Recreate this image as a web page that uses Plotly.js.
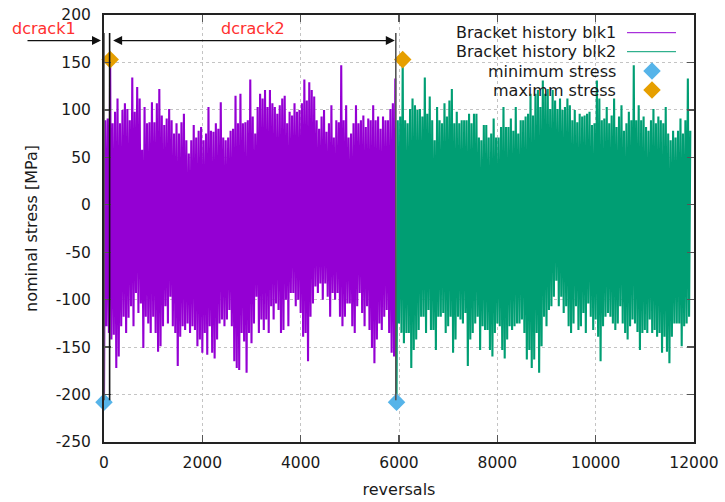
<!DOCTYPE html>
<html>
<head>
<meta charset="utf-8">
<script src="https://cdn.plot.ly/plotly-3.0.1.min.js"></script>
<style>
  html, body { margin: 0; padding: 0; background: #fff; }
  #chart { width: 725px; height: 502px; }
</style>
</head>
<body>
<div id="chart"></div>
<script>
// Bracket stress history, two blocks of reversals (peak / valley pairs).
// Each block: valley at start + i*step, peak half a step later.
const reversalStep = 50;
const blk1Start = 0;
const blk2Start = 5950;

const blk1Valleys = [
  -208,-128,-135,-142,-137,-172,-160,-128,-118,-135,-119,-107,-128,-93,-114,-104,-151,-118,-125,-135,
  -118,-135,-155,-149,-128,-107,-125,-97,-128,-135,-170,-139,-128,-132,-125,-135,-128,-132,-149,-142,
  -156,-135,-158,-128,-156,-162,-142,-125,-121,
  -128,-121,-111,-128,-165,-172,-174,-135,-144,-177,-135,-146,-125,-97,-135,-121,-132,-121,-135,-107,
  -121,-104,-111,-135,-132,-100,-128,-93,-93,-107,-100,-114,-139,-135,-165,-118,-104,-86,-93,-83,
  -100,-83,-97,-118,-93,-100,-93,-118,-128,
  -118,-104,-104,-128,-135,-107,-93,-114,-128,-107,-132,-151,-167,-142,-125,-132,-118,-111,-135,-156,-160
];
const blk1Peaks = [
  89,91,153,86,98,112,86,100,107,101,89,134,98,124,112,58,103,86,87,108,
  87,107,122,94,84,91,101,89,75,86,75,87,96,68,54,68,84,71,78,82,
  68,75,103,78,77,86,80,108,71,
  68,71,78,80,115,86,117,86,87,89,132,93,75,103,117,112,121,103,121,107,
  103,96,105,112,115,86,98,94,107,98,100,107,132,110,129,121,114,89,80,93,
  100,77,86,105,71,89,87,147,89,
  105,71,75,86,105,86,89,94,82,91,89,105,89,93,80,93,89,89,101,107,133
];
const blk2Valleys = [
  -208,-125,-135,-146,-135,-135,-172,-153,-142,-132,-118,-118,-135,-111,-132,-132,-153,-118,-118,-114,
  -135,-128,-118,-156,-142,-118,-121,-125,
  -114,-170,-142,-135,-125,-118,-153,-128,-132,-132,-153,-160,-135,-125,-128,-153,-162,-142,-128,-132,
  -128,-125,-125,-121,-135,-163,-153,-172,-163,-135,-177,-149,-118,-128,-111,-107,-97,-80,-107,-97,
  -114,-107,-128,-135,-125,-107,-132,-128,-114,
  -135,-104,-118,-132,-121,-139,-165,-128,-118,-114,-118,-125,-132,-125,-107,-125,-135,-142,-128,-121,
  -125,-134,-153,-135,-132,-135,-121,-135,-132,-139,-135,-156,-139,-155,-167,-139,-125,-125,-125,-149,
  -128,-125,-118
];
const blk2Peaks = [
  89,93,153,89,86,101,112,105,100,101,93,134,96,114,89,68,103,89,86,107,
  93,110,122,86,98,86,89,89,
  89,96,86,96,96,71,68,84,84,71,75,91,71,71,82,103,82,82,91,78,
  103,75,89,89,93,96,117,94,117,121,103,131,117,122,101,121,110,101,112,100,
  103,112,105,89,100,87,96,93,94,
  96,98,84,86,131,112,89,91,103,86,94,112,82,93,105,78,86,98,89,147,
  89,105,89,93,82,78,89,101,86,93,89,86,103,75,68,78,71,78,91,75,
  89,133,78
];

// crack marker positions (reversals) and their labels
const crackX = [0, 114, 5935];
const crackLabels = ['dcrack1', 'dcrack2'];

const xTicks = [0, 2000, 4000, 6000, 8000, 10000, 12000];
const yTicks = [-250, -200, -150, -100, -50, 0, 50, 100, 150, 200];

const seriesNames = ['Bracket history blk1', 'Bracket history blk2', 'minimum stress', 'maximm stress'];

const colBlk1 = '#9400d3';
const colBlk2 = '#009e73';
const colMin = '#56b4e9';
const colMax = '#e69f00';
const fontFam = 'DejaVu Sans, sans-serif';
const txtCol = '#1a1a1a';

function buildSeries(start, valleys, peaks) {
  const xs = [], ys = [];
  for (let i = 0; i < valleys.length; i++) {
    xs.push(start + i * reversalStep); ys.push(valleys[i]);
    xs.push(start + i * reversalStep + reversalStep / 2); ys.push(peaks[i]);
  }
  return { x: xs, y: ys };
}
function extremes(s) {
  let iMin = 0, iMax = 0;
  s.y.forEach((v, i) => { if (v < s.y[iMin]) iMin = i; if (v > s.y[iMax]) iMax = i; });
  return { minX: s.x[iMin], minY: s.y[iMin], maxX: s.x[iMax], maxY: s.y[iMax] };
}

const s1 = buildSeries(blk1Start, blk1Valleys, blk1Peaks);
const s2 = buildSeries(blk2Start, blk2Valleys, blk2Peaks);
const e1 = extremes(s1), e2 = extremes(s2);

const markerSize = 13.5;
const histWidth = 2.1;

const traces = [
  { x: s1.x, y: s1.y, type: 'scatter', mode: 'lines', name: seriesNames[0],
    line: { color: colBlk1, width: histWidth, simplify: false }, hoverinfo: 'skip' },
  { x: s2.x, y: s2.y, type: 'scatter', mode: 'lines', name: seriesNames[1],
    line: { color: colBlk2, width: histWidth, simplify: false }, hoverinfo: 'skip' },
  { x: [e1.minX, e2.minX], y: [e1.minY, e2.minY], type: 'scatter', mode: 'markers', name: seriesNames[2],
    marker: { symbol: 'diamond', size: markerSize, color: colMin }, cliponaxis: false },
  { x: [e1.maxX, e2.maxX], y: [e1.maxY, e2.maxY], type: 'scatter', mode: 'markers', name: seriesNames[3],
    marker: { symbol: 'diamond', size: markerSize, color: colMax }, cliponaxis: false },
];

// key drawn in a pixel-unit overlay (x2/y2), symbols on the right of the text
const keyTextRight = 618, keyX0 = 627, keyX1 = 676, keyMid = 652;
const keyRows = [32.7, 51.7, 71, 90];
traces.push(
  { x: [keyX0, keyX1], y: [keyRows[0], keyRows[0]], xaxis: 'x2', yaxis: 'y2', mode: 'lines',
    line: { color: colBlk1, width: 1 }, hoverinfo: 'skip' },
  { x: [keyX0, keyX1], y: [keyRows[1], keyRows[1]], xaxis: 'x2', yaxis: 'y2', mode: 'lines',
    line: { color: colBlk2, width: 1 }, hoverinfo: 'skip' },
  { x: [keyMid], y: [keyRows[2]], xaxis: 'x2', yaxis: 'y2', mode: 'markers',
    marker: { symbol: 'diamond', size: markerSize, color: colMin }, hoverinfo: 'skip' },
  { x: [keyMid], y: [keyRows[3]], xaxis: 'x2', yaxis: 'y2', mode: 'markers',
    marker: { symbol: 'diamond', size: markerSize, color: colMax }, hoverinfo: 'skip' }
);

const annotations = seriesNames.map((t, i) => ({
  text: t, xref: 'x2', yref: 'y2', x: keyTextRight, y: keyRows[i], xanchor: 'right', yanchor: 'middle',
  showarrow: false, font: { family: fontFam, size: 16, color: txtCol }
}));

const arrowY = 173;
// dcrack1: pointer from the left onto the first crack line
annotations.push({
  xref: 'x', yref: 'y', x: crackX[0], y: arrowY, ax: -78, ay: 0, axref: 'pixel', ayref: 'pixel',
  showarrow: true, arrowhead: 2, arrowsize: 1.5, arrowwidth: 1.2, arrowcolor: '#111', standoff: 3, text: ''
});
// dcrack2: double arrow between the second and third crack lines
annotations.push({
  xref: 'x', yref: 'y', x: crackX[2], y: arrowY, ax: crackX[1], ay: arrowY, axref: 'x', ayref: 'y',
  showarrow: true, arrowhead: 2, startarrowhead: 2, arrowside: 'end+start',
  arrowsize: 1.5, startarrowsize: 1.5, arrowwidth: 1.2, arrowcolor: '#111',
  standoff: 1, startstandoff: 2, text: ''
});
annotations.push(
  { text: crackLabels[0], xref: 'paper', yref: 'paper', x: (44.5 - 104) / 590, y: (442 - 28) / 427,
    xanchor: 'center', yanchor: 'middle', showarrow: false,
    font: { family: fontFam, size: 16, color: '#ff3030' } },
  { text: crackLabels[1], xref: 'x', yref: 'paper', x: (crackX[1] + crackX[2]) / 2, y: (442 - 28) / 427,
    xanchor: 'center', yanchor: 'middle', showarrow: false,
    font: { family: fontFam, size: 16, color: '#ff3030' } }
);

const shapes = crackX.map((cx, i) => ({
  type: 'line', xref: 'x', yref: 'y', x0: cx, x1: cx, y0: -206, y1: 181, layer: 'above',
  line: { color: i === 1 ? '#111' : '#555', width: 1.6 }
}));

const axisCommon = {
  showline: true, linecolor: '#222', linewidth: 2, mirror: 'ticks',
  ticks: 'inside', ticklen: 7, tickwidth: 1.3, tickcolor: '#555',
  showgrid: true, gridcolor: '#c4c4c4', griddash: 'dot', gridwidth: 1,
  zeroline: false, tickfont: { family: fontFam, size: 15.5, color: txtCol },
  fixedrange: true
};

const layout = {
  width: 725, height: 502,
  margin: { l: 104, r: 31, t: 15, b: 60 },
  paper_bgcolor: '#fff', plot_bgcolor: '#fff',
  font: { family: fontFam, size: 16, color: txtCol },
  showlegend: false,
  xaxis: Object.assign({}, axisCommon, {
    range: [0, 12000], tickmode: 'array', tickvals: xTicks, ticktext: xTicks.map(String),
    ticklabelstandoff: 5,
    title: { text: 'reversals', standoff: 13, font: { family: fontFam, size: 16, color: txtCol } }
  }),
  yaxis: Object.assign({}, axisCommon, {
    range: [-250, 200], tickmode: 'array', tickvals: yTicks, ticktext: yTicks.map(String),
    ticklabelstandoff: 8,
    title: { text: 'nominal stress [MPa]', standoff: 14, font: { family: fontFam, size: 16, color: txtCol } }
  }),
  xaxis2: { overlaying: 'x', range: [104, 694], visible: false, fixedrange: true },
  yaxis2: { overlaying: 'y', range: [442, 15], visible: false, fixedrange: true },
  shapes: shapes,
  annotations: annotations
};

Plotly.newPlot('chart', traces, layout, { staticPlot: true, displayModeBar: false });
</script>
</body>
</html>
